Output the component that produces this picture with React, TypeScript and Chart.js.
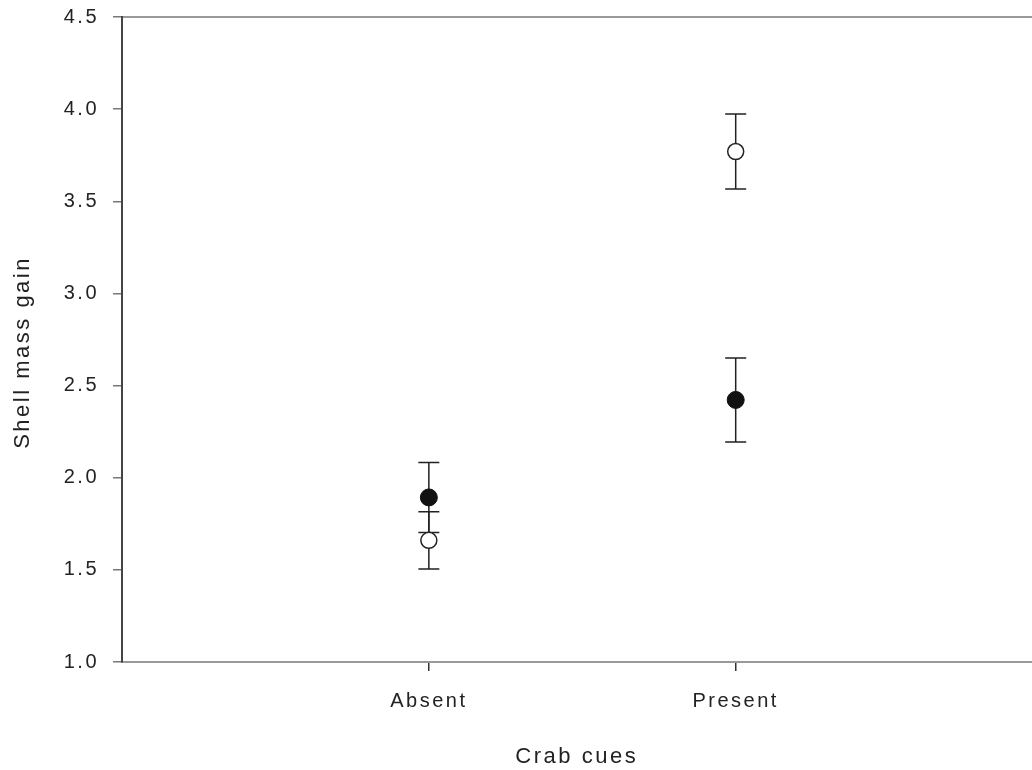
import React, { useEffect, useRef } from "react";
import { Chart, registerables } from "chart.js";

Chart.register(...registerables);

const categories = ["Absent", "Present"];
const filledMeans = [1.893, 2.422];
const filledErr = [0.19, 0.228];
const openMeans = [1.66, 3.77];
const openErr = [0.155, 0.204];
const yTicks = [1.0, 1.5, 2.0, 2.5, 3.0, 3.5, 4.0, 4.5];

const FONT = "'Liberation Sans', Arial, Helvetica, sans-serif";
const SPACING = "2.5px";

const spacingPlugin = {
  id: "spacing",
  beforeUpdate(chart: any) {
    chart.ctx.letterSpacing = SPACING;
  },
  beforeLayout(chart: any) {
    chart.ctx.letterSpacing = SPACING;
  },
  beforeDraw(chart: any) {
    chart.ctx.letterSpacing = SPACING;
  },
};

const errorBarPlugin = {
  id: "errorBars",
  beforeDatasetsDraw(chart: any) {
    const { ctx } = chart;
    const xs = chart.scales.x;
    const ys = chart.scales.y;
    const series = [
      { m: filledMeans, e: filledErr },
      { m: openMeans, e: openErr },
    ];
    ctx.save();
    ctx.strokeStyle = "#222";
    ctx.lineWidth = 1.5;
    series.forEach((s) => {
      s.m.forEach((v, i) => {
        const x = xs.getPixelForValue(i + 1);
        const yt = ys.getPixelForValue(v + s.e[i]);
        const yb = ys.getPixelForValue(v - s.e[i]);
        const cap = 10.5;
        ctx.beginPath();
        ctx.moveTo(x, yt);
        ctx.lineTo(x, yb);
        ctx.moveTo(x - cap, yt);
        ctx.lineTo(x + cap, yt);
        ctx.moveTo(x - cap, yb);
        ctx.lineTo(x + cap, yb);
        ctx.stroke();
      });
    });
    ctx.restore();
  },
};

export default function App() {
  const ref = useRef<HTMLCanvasElement>(null);
  useEffect(() => {
    if (!ref.current) return;
    const chart = new Chart(ref.current, {
      type: "scatter",
      data: {
        datasets: [
          {
            label: "filled",
            data: filledMeans.map((v, i) => ({ x: i + 1, y: v })),
            pointRadius: 8.5,
            pointBackgroundColor: "#111",
            pointBorderColor: "#111",
            pointBorderWidth: 1,
          },
          {
            label: "open",
            data: openMeans.map((v, i) => ({ x: i + 1, y: v })),
            pointRadius: 8,
            pointBackgroundColor: "#fff",
            pointBorderColor: "#222",
            pointBorderWidth: 1.5,
          },
        ],
      },
      options: {
        animation: false,
        responsive: false,
        maintainAspectRatio: false,
        layout: { padding: { top: 17, left: 0, right: 0, bottom: 0 } },
        plugins: {
          legend: { display: false },
          tooltip: { enabled: false },
        },
        scales: {
          x: {
            type: "linear",
            position: "bottom",
            min: 0,
            max: 2.964,
            afterBuildTicks: (s: any) => {
              s.ticks = categories.map((_, i) => ({ value: i + 1 }));
            },
            afterFit: (s: any) => {
              s.height = 108;
              s.paddingLeft = 0;
              s.paddingRight = 0;
            },
            ticks: {
              callback: (v: any) => categories[Math.round(v) - 1] ?? "",
              font: { family: FONT, size: 20 },
              color: "#222",
              padding: 18,
              maxRotation: 0,
            },
            grid: {
              drawOnChartArea: false,
              drawTicks: true,
              tickLength: 9,
              color: "#333",
              lineWidth: 1.5,
            },
            border: { display: true, color: "#999", width: 2 },
            title: {
              display: true,
              text: "Crab cues",
              font: { family: FONT, size: 22, lineHeight: 1.2 },
              color: "#222",
              padding: { top: 0, bottom: 0 },
            },
          },
          x2: {
            type: "linear",
            position: "top",
            min: 0,
            max: 2.964,
            afterFit: (s: any) => {
              s.height = 0;
              s.paddingLeft = 0;
              s.paddingRight = 0;
            },
            ticks: { display: false },
            grid: { drawOnChartArea: false, drawTicks: false },
            border: { display: true, color: "#999", width: 2 },
          },
          y: {
            type: "linear",
            min: 1,
            max: 4.5,
            afterBuildTicks: (s: any) => {
              s.ticks = yTicks.map((v) => ({ value: v }));
            },
            afterFit: (s: any) => {
              s.width = 122;
              s.paddingTop = 0;
              s.paddingBottom = 0;
            },
            ticks: {
              callback: (v: any) => Number(v).toFixed(1),
              font: { family: FONT, size: 20 },
              color: "#222",
              padding: 14,
            },
            grid: {
              drawOnChartArea: false,
              drawTicks: true,
              tickLength: 9,
              color: "#777",
              lineWidth: 1.5,
            },
            border: { display: true, color: "#444", width: 2 },
            title: {
              display: true,
              text: "Shell mass gain   ",
              font: { family: FONT, size: 22, lineHeight: 1.2 },
              color: "#222",
              padding: { top: 10, bottom: 0 },
            },
          },
        },
      },
      plugins: [spacingPlugin, errorBarPlugin],
    });
    return () => chart.destroy();
  }, []);
  return (
    <div
      style={{
        position: "absolute",
        left: 0,
        top: 0,
        width: 1032,
        height: 770,
        overflow: "hidden",
      }}
    >
      <canvas ref={ref} width={1041} height={770} style={{ width: 1041, height: 770 }} />
    </div>
  );
}
